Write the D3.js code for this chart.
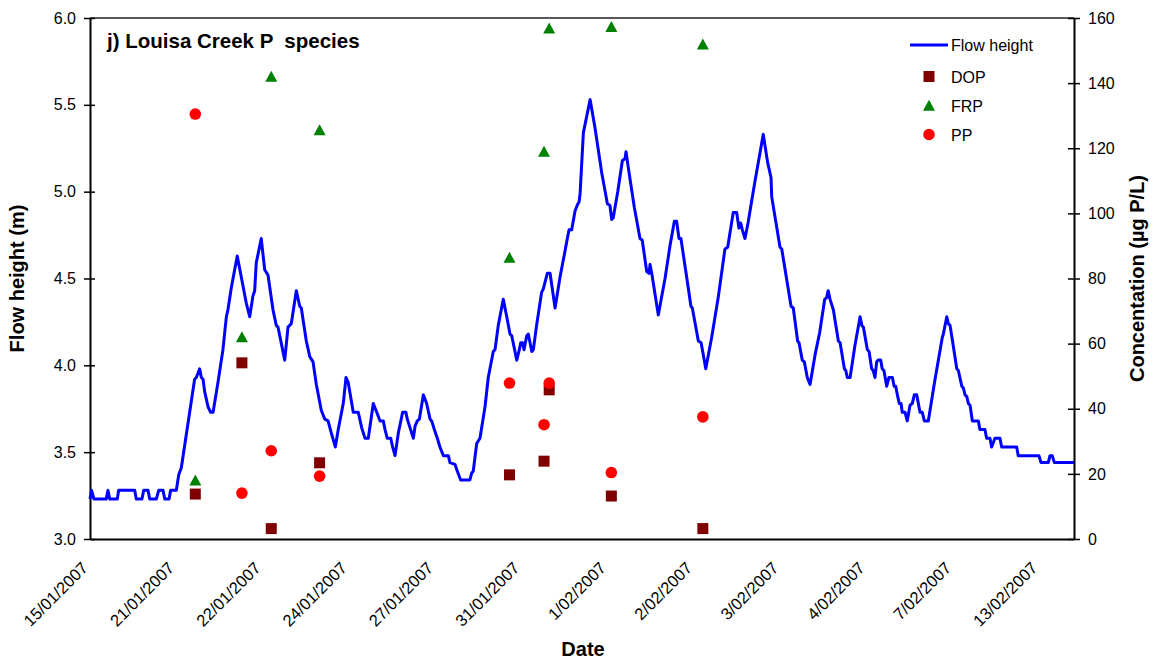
<!DOCTYPE html>
<html><head><meta charset="utf-8">
<script src="https://cdn.jsdelivr.net/npm/d3@7"></script>
<style>
body{margin:0;background:#fff;}
text{font-family:"Liberation Sans",Arial,sans-serif;}
</style></head><body>
<svg id="chart" width="1153" height="662"></svg>
<script>
// Flow record: position along the logged record (sample number) and flow height (m)
const flowIdx=[0,0.9,2.3,9.4,10.4,11.4,15.8,16.6,25.9,26.8,30.1,31.1,33.6,34.6,38.4,39.8,42.3,43.3,45.8,46.7,
50,51.4,52.9,60.6,61.6,63.5,64.5,65.5,66.4,68.4,69.9,71.3,74.1,77,79,79.9,81.9,85.3,87.6,90.5,
92.5,94.4,95.4,96.3,99.2,101.2,103.1,106,107.9,108.9,112.8,114.7,116.6,119.5,121.5,122.4,125.3,127.3,129.2,131.1,
134,136,137.9,139.8,142.1,143.8,146.7,148.3,149.6,152.5,155.4,157.4,159.3,161.2,164.1,166.1,168,169.9,170.9,172.2,
174.2,175.3,176.7,178.6,181.1,183,183.8,185.4,187.3,188.3,189.6,190.8,193.1,195,197,197.9,199.8,201.2,202.7,204.7,
207.6,208.5,211.4,212.8,214.7,220.1,221.1,222,224,225.9,228.8,230.7,233.6,234.6,236.5,239.4,241.4,243.3,244.3,247.2,
248.7,249.5,250.6,251.4,253,253.9,255.9,256.8,258.7,261.6,262.6,264.9,266.5,269.4,272.3,275.2,276.5,277.5,279,281,
282.6,283.3,283.9,285.8,289.7,292.5,296.4,299.7,301.2,302.2,303.1,305.7,308.4,309.9,310.5,311.8,315.3,318.6,319.9,322.5,
323.8,324.4,325.4,329.2,333.1,336,338.5,339.8,341.2,342.3,345.6,348.1,348.9,352.4,354,356.7,360.1,363.9,367.8,369.4,
372.6,374.6,375.9,376.9,377.9,379.4,381,385.2,390,392.5,394.5,394.9,399.7,400.7,406.1,407.4,409.9,410.7,412.6,413.8,
415.5,417.1,420,422.7,425.6,426.7,427.6,428.7,430.6,433.5,434.5,437,437.8,438.7,440.3,443.2,446.1,447.1,448,450.3,
451.3,452.8,453.7,454.7,455.7,456.6,458,458.9,459.9,461.5,462.8,464.8,465.8,466.7,467.9,468.8,469.8,470.5,472.1,473.4,
475,476.3,477.5,478.9,480.8,482.1,483.3,485.6,489.5,493.7,494.3,496.3,497.2,498.2,500.1,502.1,503,505,505.9,506.9,
507.9,508.8,509.8,511.1,514.6,515.5,518.4,519.4,521.3,522.3,524.2,527.1,528.1,536.8,537.7,549.7,550.9,555.1,556.1,557.4,
558.6,570];
const flowHeight=[3.23,3.28,3.23,3.23,3.28,3.23,3.23,3.28,3.28,3.23,3.23,3.28,3.28,3.23,3.23,3.28,3.28,3.23,3.23,3.28,
3.28,3.37,3.41,3.92,3.93,3.98,3.93,3.92,3.85,3.76,3.73,3.73,3.90,4.09,4.28,4.32,4.45,4.63,4.51,4.36,
4.28,4.40,4.43,4.59,4.73,4.55,4.52,4.32,4.23,4.22,4.03,4.22,4.24,4.43,4.34,4.33,4.14,4.05,4.02,3.89,
3.74,3.69,3.68,3.61,3.53,3.63,3.78,3.93,3.90,3.73,3.73,3.64,3.58,3.58,3.78,3.73,3.68,3.68,3.63,3.58,
3.58,3.53,3.48,3.61,3.73,3.73,3.69,3.64,3.58,3.65,3.68,3.69,3.83,3.78,3.69,3.68,3.62,3.58,3.53,3.48,
3.48,3.44,3.43,3.39,3.34,3.34,3.38,3.39,3.55,3.58,3.76,3.93,4.08,4.09,4.23,4.38,4.28,4.18,4.17,4.03,
4.09,4.13,4.13,4.09,4.17,4.18,4.08,4.09,4.23,4.42,4.44,4.53,4.53,4.33,4.51,4.66,4.73,4.78,4.78,4.89,
4.93,4.94,4.99,5.34,5.53,5.37,5.11,4.93,4.92,4.84,4.85,5.00,5.18,5.19,5.23,5.14,4.91,4.73,4.72,4.54,
4.53,4.58,4.53,4.29,4.50,4.69,4.83,4.83,4.73,4.73,4.51,4.34,4.33,4.14,4.13,3.98,4.16,4.39,4.67,4.68,
4.88,4.88,4.79,4.82,4.78,4.73,4.81,5.06,5.33,5.17,5.08,4.97,4.68,4.67,4.34,4.33,4.14,4.13,4.03,4.02,
3.93,3.89,4.06,4.19,4.38,4.39,4.43,4.38,4.32,4.14,4.13,3.98,3.97,3.93,3.93,4.12,4.28,4.23,4.22,4.09,
4.08,3.98,3.97,3.93,4.02,4.03,4.03,3.98,3.97,3.88,3.93,3.93,3.88,3.88,3.82,3.78,3.78,3.73,3.73,3.68,
3.77,3.78,3.83,3.83,3.73,3.73,3.68,3.68,3.92,4.16,4.18,4.28,4.24,4.23,4.11,3.98,3.97,3.88,3.87,3.83,
3.82,3.78,3.77,3.68,3.68,3.63,3.63,3.58,3.58,3.53,3.58,3.58,3.53,3.53,3.48,3.48,3.44,3.44,3.48,3.48,
3.44,3.44];

// Water-quality samples (positions on the same record) and concentrations (µg P/L)
const sampleIdx=[61,88,105,133,243,263,266,302,355];
const dop=[13.8,54.1,3.2,23.4,19.7,23.9,45.8,13.2,3.2];
const frp=[18,62,142,125.6,86.4,119,156.8,157.3,151.9];
const pp=[130.5,14.1,27.1,19.3,47.9,35.1,47.9,20.4,37.5];

const dateTickIdx=[0,50,100,150,200,250,300,350,400,450,500,550];
const dateTickLabels=["15/01/2007","21/01/2007","22/01/2007","24/01/2007","27/01/2007","31/01/2007",
"1/02/2007","2/02/2007","3/02/2007","4/02/2007","7/02/2007","13/02/2007"];
const leftTicks=[3,3.5,4,4.5,5,5.5,6];
const rightTicks=[0,20,40,60,80,100,120,140,160];

if(flowIdx.length!==flowHeight.length) throw new Error("length mismatch "+flowIdx.length+" vs "+flowHeight.length);

const svg=d3.select('#chart');
const L=90,R=1074,T=18,B=539;
const x=d3.scaleLinear().domain([0,570]).range([L,R]);
const yL=d3.scaleLinear().domain([3,6]).range([B,T]);
const yR=d3.scaleLinear().domain([0,160]).range([B,T]);
const FONT='"Liberation Sans",Arial,sans-serif';

// top frame
svg.append('line').attr('x1',L).attr('x2',R).attr('y1',T).attr('y2',T)
  .attr('stroke','#222').attr('stroke-width',1.5);

// left axis
const gl=svg.append('g').attr('transform',`translate(${L},0)`)
  .call(d3.axisLeft(yL).tickValues(leftTicks).tickFormat(d3.format('.1f')).tickSizeInner(6).tickSizeOuter(0).tickPadding(8));
gl.select('.domain').attr('stroke','#000').attr('stroke-width',2);
gl.selectAll('.tick line').attr('x1',5).attr('stroke','#000').attr('stroke-width',1.5);
gl.selectAll('.tick text').attr('font-size',16).attr('font-family',FONT).attr('fill','#000');

// right axis
const gr=svg.append('g').attr('transform',`translate(${R},0)`)
  .call(d3.axisRight(yR).tickValues(rightTicks).tickSizeInner(6).tickSizeOuter(0).tickPadding(8));
gr.select('.domain').attr('stroke','#000').attr('stroke-width',2);
gr.selectAll('.tick line').attr('x1',-6).attr('stroke','#000').attr('stroke-width',1.5);
gr.selectAll('.tick text').attr('font-size',16).attr('font-family',FONT).attr('fill','#000');

// bottom axis (no tick marks)
const gb=svg.append('g').attr('transform',`translate(0,${B})`)
  .call(d3.axisBottom(x).tickValues([]).tickSizeOuter(0));
gb.select('.domain').attr('stroke','#000').attr('stroke-width',2);
svg.append('g').selectAll('text').data(dateTickIdx).join('text')
  .attr('transform',d=>`translate(${x(d)-1},${B+30}) rotate(-45)`)
  .attr('text-anchor','end').attr('font-size',16.5).attr('fill','#000')
  .text((d,i)=>dateTickLabels[i]);

// axis titles
svg.append('text').attr('transform',`translate(24,${(T+B)/2}) rotate(-90)`)
  .attr('text-anchor','middle').attr('font-weight','bold').attr('font-size',20).text('Flow height (m)');
svg.append('text').attr('transform',`translate(1144,${(T+B)/2}) rotate(-90)`)
  .attr('text-anchor','middle').attr('font-weight','bold').attr('font-size',20).text('Concentation (µg P/L)');
svg.append('text').attr('x',583).attr('y',656)
  .attr('text-anchor','middle').attr('font-weight','bold').attr('font-size',20).text('Date');

// panel title
svg.append('text').attr('x',107).attr('y',48).attr('font-weight','bold').attr('font-size',20.5)
  .style('white-space','pre').text('j) Louisa Creek P  species');

// flow line
const flow=flowIdx.map((d,i)=>({i:d,v:flowHeight[i]}));
svg.append('path').datum(flow)
  .attr('d',d3.line().x(d=>x(d.i)).y(d=>yL(d.v)))
  .attr('fill','none').attr('stroke','#0000FF').attr('stroke-width',3).attr('stroke-linejoin','round');

// markers
const sq=d3.symbol().type(d3.symbolSquare).size(121);
const tri='M0,-5.8L6,5.2L-6,5.2Z';
svg.append('g').selectAll('path').data(sampleIdx).join('path')
  .attr('transform',(d,i)=>`translate(${x(d)},${yR(dop[i])})`).attr('d',sq()).attr('fill','#800000');
svg.append('g').selectAll('path').data(sampleIdx).join('path')
  .attr('transform',(d,i)=>`translate(${x(d)},${yR(frp[i])})`).attr('d',tri).attr('fill','#008000');
svg.append('g').selectAll('circle').data(sampleIdx).join('circle')
  .attr('cx',d=>x(d)).attr('cy',(d,i)=>yR(pp[i])).attr('r',5.8).attr('fill','#FF0000');

// legend
const lg=svg.append('g');
lg.append('line').attr('x1',910).attr('x2',948).attr('y1',45).attr('y2',45).attr('stroke','#0000FF').attr('stroke-width',3);
lg.append('path').attr('transform','translate(929,76.5)').attr('d',sq()).attr('fill','#800000');
lg.append('path').attr('transform','translate(929,105.5)').attr('d',tri).attr('fill','#008000');
lg.append('circle').attr('cx',929).attr('cy',134.5).attr('r',5.8).attr('fill','#FF0000');
const legNames=['Flow height','DOP','FRP','PP'];
const legY=[45,76.5,105.5,134.5];
lg.selectAll('text').data(legNames).join('text')
  .attr('x',951).attr('y',(d,i)=>legY[i]+6).attr('font-size',16).text(d=>d);
</script>
</body></html>
